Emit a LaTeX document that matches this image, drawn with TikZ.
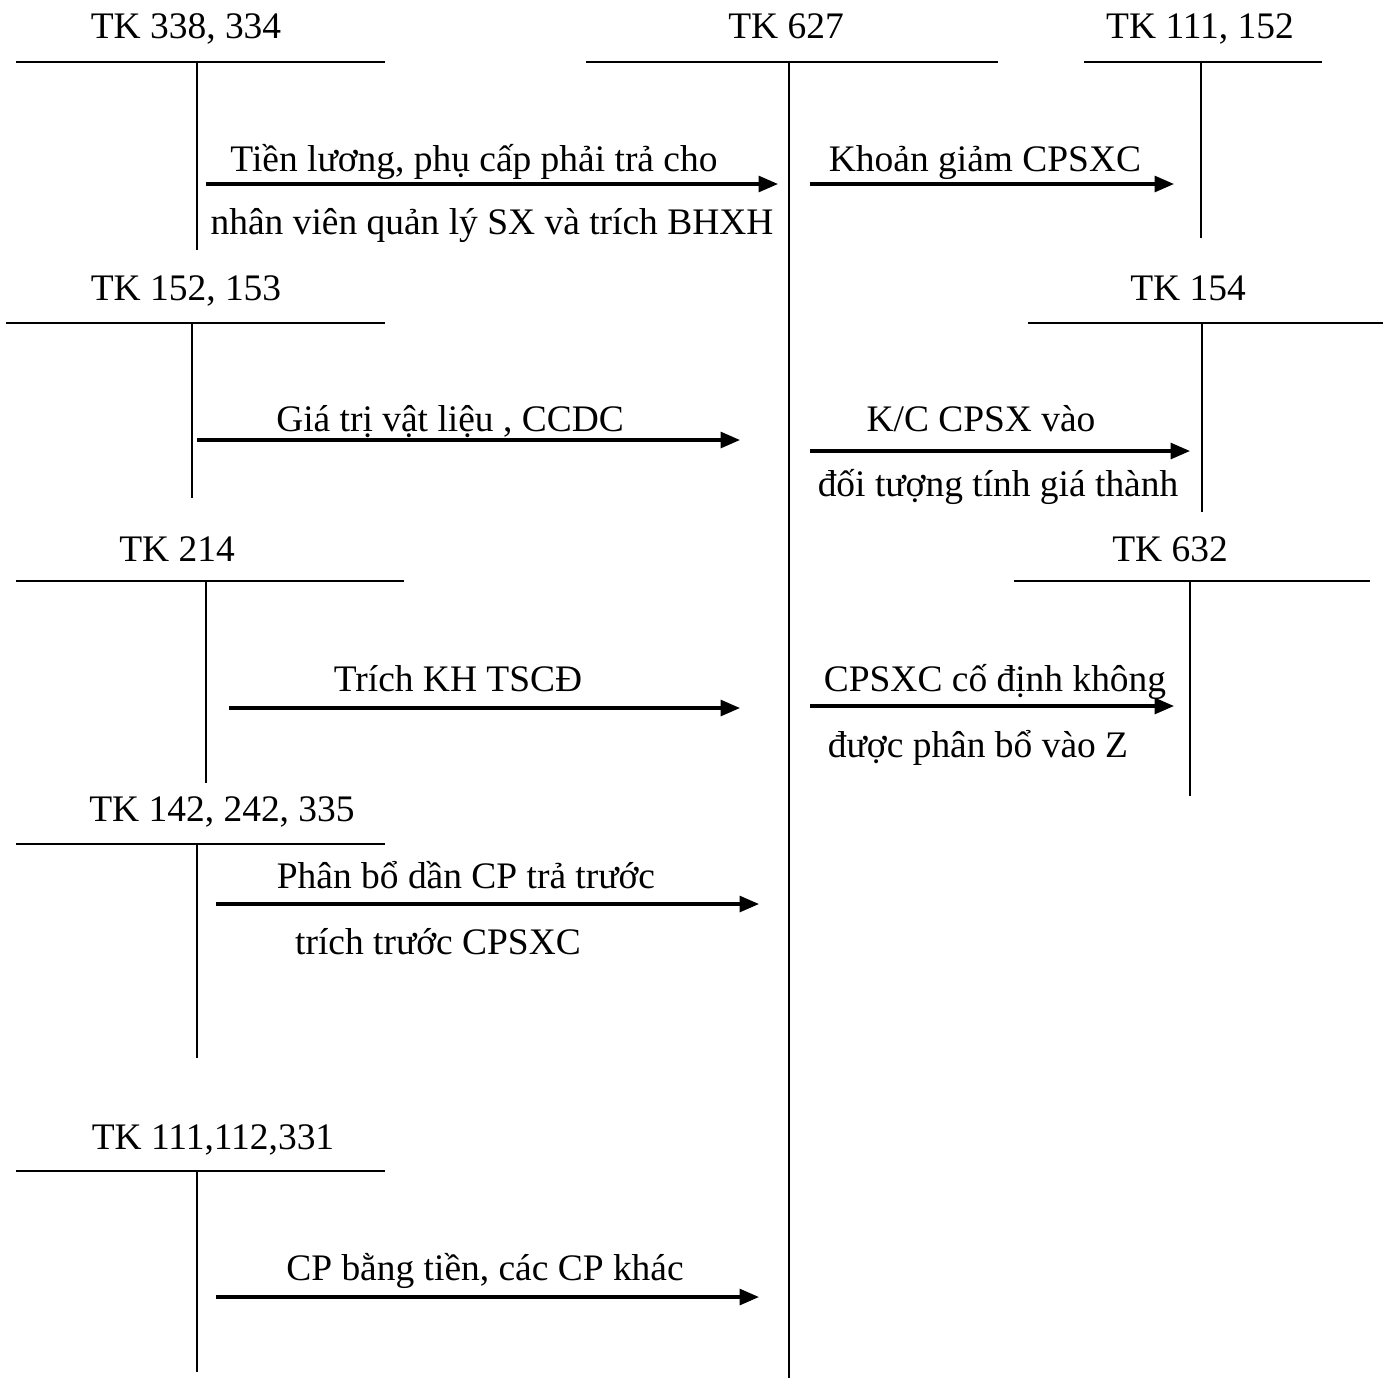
\documentclass[tikz,border=0pt]{standalone}
\usepackage{fontspec}
\setmainfont{Liberation Serif}
\usetikzlibrary{arrows.meta}
\tikzset{
  acct/.style={inner sep=0pt, anchor=base, font=\fontsize{10.65}{13}\selectfont},
  lbl/.style={inner sep=0pt, anchor=base, font=\fontsize{10.65}{13}\selectfont},
  tline/.style={line width=0.6pt},
  flow/.style={line width=0.9pt, -{Triangle[length=5.5pt,width=4.5pt]}}
}
\begin{document}
\begin{tikzpicture}[x=0.01cm, y=-0.01cm]
  \useasboundingbox (0,0) rectangle (1389,1378);
  % T accounts: name/title/x/baseline/left/right/top/stem/bottom
  \foreach \nm/\txt/\lx/\ly/\xl/\xr/\yh/\xs/\yb in {
      a/{TK 338, 334}/186/38/16/385/62/197/250,
      b/{TK 627}/786/38/586/998/62/789/1378,
      c/{TK 111, 152}/1200/38/1084/1322/62/1201/238,
      d/{TK 152, 153}/186/300/6/385/323/192/498,
      e/{TK 154}/1188/300/1028/1383/323/1202/512,
      f/{TK 214}/177/561/16/404/581/206/783,
      g/{TK 632}/1170/561/1014/1370/581/1190/796,
      h/{TK 142, 242, 335}/222/821/16/385/844/197/1058,
      i/{TK 111,112,331}/213/1149/16/385/1171/197/1372}
  {
    \node[acct] (\nm) at (\lx,\ly) {\txt};
    \coordinate (\nm-l) at (\xl,\yh);
    \coordinate (\nm-r) at (\xr,\yh);
    \coordinate (\nm-t) at (\xs,\yh);
    \coordinate (\nm-b) at (\xs,\yb);
    \draw[tline] (\nm-l) -- (\nm-r);
    \draw[tline] (\nm-t) -- (\nm-b);
  }
  % entries
  \foreach \nm/\xa/\xb/\y in {a1/206/778/184, c1/810/1174/184,
      d1/197/740/440, e1/810/1190/451, f1/229/740/708,
      g1/810/1174/706, h1/216/759/904, i1/216/759/1297}
  {
    \coordinate (\nm-s) at (\xa,\y);
    \coordinate (\nm-e) at (\xb,\y);
    \draw[flow] (\nm-s) -- (\nm-e);
  }
  \node[lbl] (a1u) at (474,171) {Tiền lương, phụ cấp phải trả cho};
  \node[lbl] (a1d) at (492,234) {nhân viên quản lý SX và trích BHXH};
  \node[lbl] (c1u) at (985,171) {Khoản giảm CPSXC};
  \node[lbl] (d1u) at (450,431) {Giá trị vật liệu , CCDC};
  \node[lbl] (e1u) at (981,431) {K/C CPSX vào};
  \node[lbl] (e1d) at (998,496) {đối tượng tính giá thành};
  \node[lbl] (f1u) at (458,691) {Trích KH TSCĐ};
  \node[lbl] (g1u) at (995,691) {CPSXC cố định không};
  \node[lbl] (g1d) at (978,757) {được phân bổ vào Z};
  \node[lbl] (h1u) at (466,888) {Phân bổ dần CP trả trước};
  \node[lbl] (h1d) at (438,954) {trích trước CPSXC};
  \node[lbl] (i1u) at (485,1280) {CP bằng tiền, các CP khác};
\end{tikzpicture}
\end{document}
